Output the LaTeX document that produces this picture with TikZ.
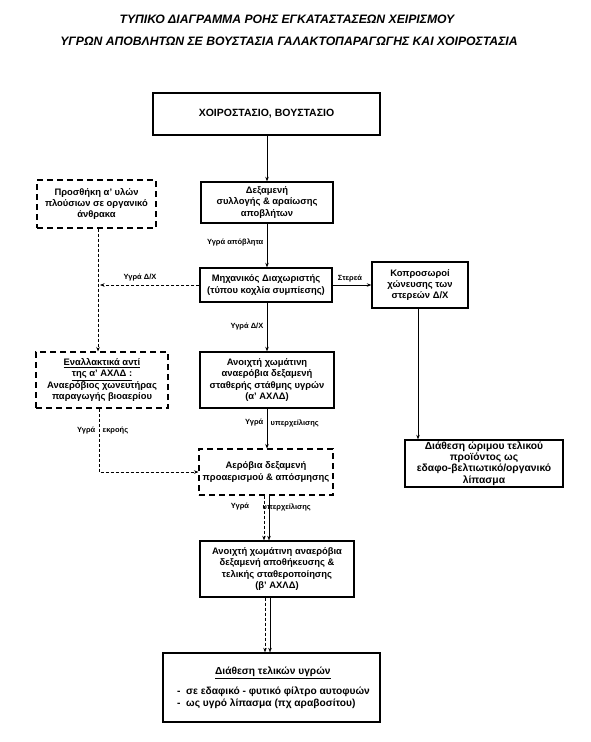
\documentclass[tikz,border=0pt]{standalone}
\usepackage{fontspec}
\setmainfont{Liberation Sans}
\usetikzlibrary{arrows.meta}
\tikzset{
  box/.style={draw, line width=1.4pt, align=center, inner sep=1pt,
    font=\fontsize{9.4}{11.2}\selectfont\bfseries},
  dbox/.style={box, line width=1.1pt, dash pattern=on 6pt off 4pt},
  lbl/.style={font=\fontsize{7.5}{8}\selectfont\bfseries, inner sep=0.5pt},
  arr/.style={line width=0.6pt, -{Stealth[length=4.5pt,width=3.5pt]}},
  darr/.style={arr, dash pattern=on 3pt off 2pt},
  ttl/.style={font=\fontsize{12.2}{14}\selectfont\bfseries\itshape}
}
\begin{document}
\begin{tikzpicture}[x=1pt,y=-1pt]
\useasboundingbox (0,0) rectangle (590,742);
% title
\node[ttl] (t1) at (287,19) {ΤΥΠΙΚΟ ΔΙΑΓΡΑΜΜΑ ΡΟΗΣ ΕΓΚΑΤΑΣΤΑΣΕΩΝ ΧΕΙΡΙΣΜΟΥ};
\node[ttl] (t2) at (289,41) {ΥΓΡΩΝ ΑΠΟΒΛΗΤΩΝ ΣΕ ΒΟΥΣΤΑΣΙΑ ΓΑΛΑΚΤΟΠΑΡΑΓΩΓΗΣ ΚΑΙ ΧΟΙΡΟΣΤΑΣΙΑ};
% boxes
\node[box, line width=2pt, minimum width=227pt, minimum height=42pt, font=\fontsize{10.5}{12}\selectfont\bfseries] (b1) at (266.5,114) {ΧΟΙΡΟΣΤΑΣΙΟ, ΒΟΥΣΤΑΣΙΟ};
\node[box, minimum width=132pt, minimum height=41pt] (b2) at (267,202.5) {Δεξαμενή\\συλλογής \& αραίωσης\\αποβλήτων};
\node[dbox, minimum width=119pt, minimum height=48pt] (ld1) at (96.5,204) {Προσθήκη α' υλών\\πλούσιων σε οργανικό\\άνθρακα};
\node[box, minimum width=132pt, minimum height=34pt] (b3) at (266,285) {Μηχανικός Διαχωριστής\\(τύπου κοχλία συμπίεσης)};
\node[box, minimum width=96pt, minimum height=46pt] (r1) at (420,285) {Κοπροσωροί\\χώνευσης των\\στερεών Δ/Χ};
\node[dbox, minimum width=132pt, minimum height=56pt] (ld2) at (102,380) {\underline{Εναλλακτικά αντί}\\\underline{της α' ΑΧΛΔ :}\\Αναερόβιος χωνευτήρας\\παραγωγής βιοαερίου};
\node[box, minimum width=134pt, minimum height=56pt] (b4) at (267,380) {Ανοιχτή χωμάτινη\\αναερόβια δεξαμενή\\σταθερής στάθμης υγρών\\(α' ΑΧΛΔ)};
\node[dbox, minimum width=134pt, minimum height=46pt] (aer) at (266,472) {Αερόβια δεξαμενή\\προαερισμού \& απόσμησης};
\node[box, minimum width=158pt, minimum height=47pt, font=\fontsize{10.3}{11.2}\selectfont\bfseries] (r2) at (484,463.5) {Διάθεση ώριμου τελικού\\προϊόντος ως\\εδαφο-βελτιωτικό/οργανικό\\λίπασμα};
\node[box, minimum width=154pt, minimum height=56pt] (b5) at (277,569) {Ανοιχτή χωμάτινη αναερόβια\\δεξαμενή αποθήκευσης \&\\τελικής σταθεροποίησης\\(β' ΑΧΛΔ)};
\node[box, minimum width=217pt, minimum height=69pt, align=left, font=\fontsize{10.2}{12}\selectfont\bfseries] (b6) at (271.5,687.5) {\hspace*{42pt}\underline{Διάθεση τελικών υγρών}\\[8pt]\hspace*{4pt}-\ \ σε εδαφικό - φυτικό φίλτρο αυτοφυών\\\hspace*{4pt}-\ \ ως υγρό λίπασμα (πχ αραβοσίτου)};
% free ends
\coordinate (lx) at (100,285);
% connectors
\draw[arr] (b1.south -| 267,0) -- (b2.north -| 267,0);
\draw[arr] (b2.south -| 267,0) -- (b3.north -| 267,0);
\draw[darr] (b3.west) -- (lx);
\draw[darr] (ld1.south -| 98,0) -- (ld2.north -| 98,0);
\draw[arr] (b3.east) -- (r1.west);
\draw[arr] (b3.south -| 267,0) -- (b4.north -| 267,0);
\draw[arr] (r1.south -| 418,0) -- (r2.north -| 418,0);
\draw[darr] (ld2.south -| 99,0) |- (aer.west);
\draw[arr] (b4.south -| 267,0) -- (aer.north -| 267,0);
\draw[darr] (aer.south -| 264,0) -- (b5.north -| 264,0);
\draw[arr, line width=0.4pt] (aer.south -| 269,0) -- (b5.north -| 269,0);
\draw[darr] (b5.south -| 265,0) -- (b6.north -| 265,0);
\draw[arr, line width=0.4pt] (b5.south -| 270,0) -- (b6.north -| 270,0);
% labels
\node[lbl, anchor=east] (l1) at (264,242) {Υγρά απόβλητα};
\node[lbl] (l2) at (140,278) {Υγρά Δ/Χ};
\node[lbl] (l3) at (350,279) {Στερεά};
\node[lbl, anchor=east] (l4) at (264,327) {Υγρά Δ/Χ};
\node[lbl, anchor=east] (l5a) at (264,423) {Υγρά};
\node[lbl, anchor=west] (l5b) at (270,423) {υπερχείλισης};
\node[lbl, anchor=east] (l6a) at (96,431) {Υγρά};
\node[lbl, anchor=west] (l6b) at (102,431) {εκροής};
\node[lbl] (l7a) at (240,507) {Υγρά};
\node[lbl, anchor=west] (l7b) at (262,507) {υπερχείλισης};
\end{tikzpicture}
\end{document}
